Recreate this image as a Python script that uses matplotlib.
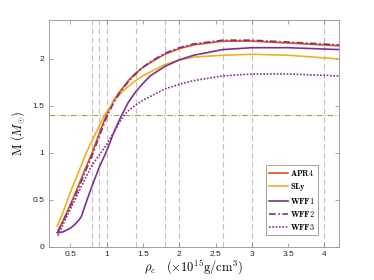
import matplotlib
matplotlib.use("Agg")
import matplotlib.pyplot as plt
import numpy as np

plt.rcParams['mathtext.fontset'] = 'cm'

# ---- data ----
apr4_x = [0.33, 0.4, 0.5, 0.6, 0.7, 0.8, 0.9, 1.0, 1.1, 1.18, 1.3, 1.4, 1.5, 1.6, 1.8, 2.0, 2.2, 2.6, 3.0, 3.5, 4.2]
apr4_y = [0.17, 0.28, 0.45, 0.63, 0.82, 1.0, 1.21, 1.41, 1.56, 1.65, 1.77, 1.85, 1.91, 1.96, 2.05, 2.11, 2.15, 2.19, 2.19, 2.17, 2.14]

sly_x = [0.32, 0.4, 0.5, 0.6, 0.72, 0.8, 0.9, 0.97, 1.1, 1.2, 1.3, 1.4, 1.5, 1.6, 1.8, 2.0, 2.2, 2.6, 3.0, 3.5, 4.2]
sly_y = [0.22, 0.37, 0.58, 0.77, 1.0, 1.13, 1.29, 1.4, 1.55, 1.64, 1.71, 1.77, 1.82, 1.86, 1.94, 1.99, 2.02, 2.04, 2.05, 2.04, 2.00]

wff1_x = [0.32, 0.4, 0.5, 0.55, 0.6, 0.65, 0.73, 0.8, 0.9, 1.0, 1.1, 1.2, 1.3, 1.4, 1.5, 1.6, 1.8, 2.0, 2.2, 2.6, 3.0, 3.5, 4.2]
wff1_y = [0.15, 0.16, 0.20, 0.23, 0.27, 0.32, 0.5, 0.65, 0.85, 1.02, 1.22, 1.39, 1.54, 1.65, 1.74, 1.82, 1.92, 1.99, 2.04, 2.10, 2.12, 2.12, 2.10]

wff2_x = [0.33, 0.4, 0.5, 0.6, 0.7, 0.8, 0.9, 1.0, 1.1, 1.18, 1.3, 1.4, 1.5, 1.6, 1.8, 2.0, 2.2, 2.6, 3.0, 3.5, 4.2]
wff2_y = [0.16, 0.27, 0.43, 0.60, 0.79, 0.97, 1.18, 1.38, 1.54, 1.64, 1.76, 1.84, 1.91, 1.97, 2.06, 2.12, 2.16, 2.20, 2.20, 2.18, 2.15]

wff3_x = [0.33, 0.4, 0.5, 0.6, 0.7, 0.8, 0.9, 1.0, 1.1, 1.18, 1.25, 1.3, 1.4, 1.5, 1.6, 1.8, 2.0, 2.2, 2.6, 3.0, 3.5, 4.2]
wff3_y = [0.12, 0.24, 0.40, 0.56, 0.72, 0.87, 0.98, 1.09, 1.22, 1.33, 1.41, 1.45, 1.51, 1.56, 1.60, 1.68, 1.73, 1.77, 1.82, 1.84, 1.84, 1.82]

vlines_x = [0.8, 0.9, 1.0, 1.4, 1.8, 2.0, 2.6, 3.0, 4.0]
hline_y = 1.4

xticks = [0.5, 1, 1.5, 2, 2.5, 3, 3.5, 4]
xticklabels = ['0.5', '1', '1.5', '2', '2.5', '3', '3.5', '4']
yticks = [0, 0.5, 1, 1.5, 2]
yticklabels = ['0', '0.5', '1', '1.5', '2']

labels = ['APR4', 'SLy', 'WFF1', 'WFF2', 'WFF3']

# ---- figure ----
fig = plt.figure(figsize=(3.74, 2.80), dpi=100)
ax = fig.add_axes([0.1297, 0.118, 0.7767, 0.809])

for xv in vlines_x:
    ax.axvline(xv, color='#c0c0c0', lw=0.8, ls=(0, (5, 3)), zorder=1)
ax.axhline(hline_y, color='#77AC30', lw=0.7, ls=(0, (6, 2, 1, 2)), zorder=1)

c_apr = '#D95319'
c_sly = '#EDB120'
c_wff = '#7E2F8E'
lw = 1.2
ax.plot(apr4_x, apr4_y, color=c_apr, lw=lw, label=r'$\mathbf{APR4}$', zorder=3)
ax.plot(sly_x, sly_y, color=c_sly, lw=lw, label=r'$\mathbf{SLy}$', zorder=3)
ax.plot(wff1_x, wff1_y, color=c_wff, lw=lw, label=r'$\mathbf{WFF1}$', zorder=3)
ax.plot(wff2_x, wff2_y, color=c_wff, lw=lw, ls=(0, (4, 1.5, 1, 1.5)), label=r'$\mathbf{WFF2}$', zorder=3)
ax.plot(wff3_x, wff3_y, color=c_wff, lw=lw, ls=(0, (1, 1)), label=r'$\mathbf{WFF3}$', zorder=3)

ax.set_xlim(0.2, 4.2)
ax.set_ylim(0, 2.41)
ax.set_xticks(xticks)
ax.set_xticklabels(xticklabels)
ax.set_yticks(yticks)
ax.set_yticklabels(yticklabels)
ax.tick_params(direction='in', length=3, width=0.5, colors='#808080', labelcolor='#262626',
               labelsize=6, top=True, right=True, pad=3)
for lab in ax.get_xticklabels() + ax.get_yticklabels():
    lab.set_family('Liberation Sans')
for s in ax.spines.values():
    s.set_color('#909090')
    s.set_linewidth(0.6)

ax.set_xlabel(r'$\rho_c \quad (\times 10^{15}\mathrm{g/cm}^3)$', fontsize=9, labelpad=0)
ax.set_ylabel(r'$\mathrm{M}\ (M_{\odot})$', fontsize=9, labelpad=4)

leg = ax.legend(loc='lower right', bbox_to_anchor=(0.928, 0.053), borderaxespad=0,
                fontsize=6, handlelength=2.3, handletextpad=0.3, labelspacing=0.35,
                borderpad=0.35, fancybox=False, framealpha=1, edgecolor='#909090')
leg.get_frame().set_linewidth(0.6)

fig.savefig('out.png', dpi=100)
